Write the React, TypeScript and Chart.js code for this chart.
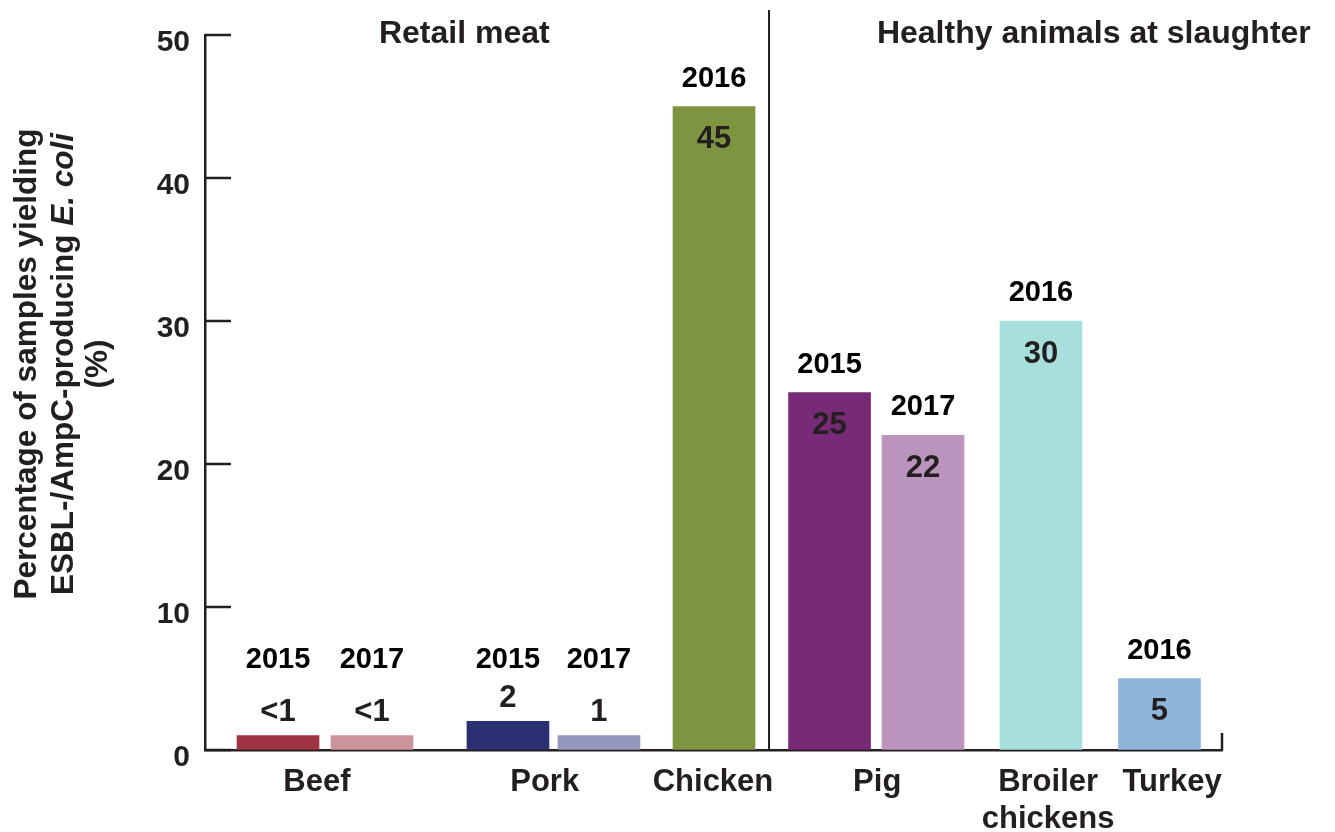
import React, { useEffect, useRef } from "react";
import { Chart, registerables } from "chart.js";

Chart.register(...registerables);

// ---- data ----
const categories = ["Beef", "Pork", "Chicken", "Pig", "Broiler chickens", "Turkey"];
const categoryPositions = [11.0, 33.4, 49.95, 66.1, 82.9, 95.1];
const barPositions = [7.18, 16.42, 29.79, 38.74, 50.05, 61.41, 70.6, 82.2, 93.85];
const barValues = [1, 1, 2, 1, 45, 25, 22, 30, 5];
const valueLabels = ["<1", "<1", "2", "1", "45", "25", "22", "30", "5"];
const yearLabels = ["2015", "2017", "2015", "2017", "2016", "2015", "2017", "2016", "2016"];
const barColors = [
  "#9e3441",
  "#cc959d",
  "#2b3073",
  "#9597bd",
  "#7f9441",
  "#772a75",
  "#bb94bd",
  "#a6dfdc",
  "#8db6da",
];
const sectionTitles = ["Retail meat", "Healthy animals at slaughter"];
const sectionTitlePositions = [25.5, 87.4];
const dividerPosition = 55.46;
const yTicks = [0, 10, 20, 30, 40, 50];
const yTitleLine1 = "Percentage of samples yielding";
const yTitleLine2a = "ESBL-/AmpC-producing ";
const yTitleLine2b = "E. coli";
const yTitleLine3 = "(%)";

const FONT = "'Liberation Sans', Arial, sans-serif";
const INK = "#231f20";

const annotations = {
  id: "annotations",
  afterDraw(chart: any) {
    const ctx = chart.ctx;
    const xs = chart.scales.x;
    const ys = chart.scales.y;
    const area = chart.chartArea;
    ctx.save();

    // inward y ticks
    ctx.strokeStyle = INK;
    ctx.lineWidth = 2.5;
    yTicks.forEach((v) => {
      const y = ys.getPixelForValue(v);
      ctx.beginPath();
      ctx.moveTo(area.left, y);
      ctx.lineTo(area.left + 26, y);
      ctx.stroke();
    });

    // end tick of x axis
    ctx.beginPath();
    ctx.moveTo(area.right, area.bottom + 1);
    ctx.lineTo(area.right, area.bottom - 17);
    ctx.stroke();

    // divider
    const dx = xs.getPixelForValue(dividerPosition);
    ctx.lineWidth = 2;
    ctx.beginPath();
    ctx.moveTo(dx, 10);
    ctx.lineTo(dx, area.bottom);
    ctx.stroke();

    // section titles
    ctx.fillStyle = INK;
    ctx.font = `bold 32px ${FONT}`;
    ctx.textAlign = "center";
    ctx.textBaseline = "middle";
    sectionTitles.forEach((t, i) => {
      ctx.fillText(t, xs.getPixelForValue(sectionTitlePositions[i]), 34);
    });

    // bar labels
    const meta = chart.getDatasetMeta(0);
    meta.data.forEach((el: any, i: number) => {
      const v = barValues[i];
      const top = el.y;
      let yearY: number;
      let valY: number;
      if (v < 3) {
        valY = top - 23;
        yearY = ys.getPixelForValue(1) - 76;
      } else {
        valY = top + 33;
        yearY = top - 28;
      }
      ctx.fillStyle = "#000";
      ctx.font = `bold 29px ${FONT}`;
      ctx.fillText(yearLabels[i], el.x, yearY);
      ctx.fillStyle = INK;
      ctx.font = `bold 31px ${FONT}`;
      ctx.fillText(valueLabels[i], el.x, valY);
    });

    // y title (rotated, mixed style)
    const cy = 364;
    ctx.fillStyle = INK;
    ctx.textBaseline = "alphabetic";
    const drawRot = (bx: number, fn: () => void) => {
      ctx.save();
      ctx.translate(bx, cy);
      ctx.rotate(-Math.PI / 2);
      fn();
      ctx.restore();
    };
    drawRot(36, () => {
      ctx.font = `bold 31.5px ${FONT}`;
      ctx.textAlign = "center";
      ctx.fillText(yTitleLine1, 0, 0);
    });
    drawRot(73, () => {
      ctx.font = `bold 31.5px ${FONT}`;
      const w1 = ctx.measureText(yTitleLine2a).width;
      ctx.font = `italic bold 31.5px ${FONT}`;
      const w2 = ctx.measureText(yTitleLine2b).width;
      const start = -(w1 + w2) / 2;
      ctx.textAlign = "left";
      ctx.font = `bold 31.5px ${FONT}`;
      ctx.fillText(yTitleLine2a, start, 0);
      ctx.font = `italic bold 31.5px ${FONT}`;
      ctx.fillText(yTitleLine2b, start + w1, 0);
    });
    drawRot(107, () => {
      ctx.font = `bold 31.5px ${FONT}`;
      ctx.textAlign = "center";
      ctx.fillText(yTitleLine3, 0, 0);
    });

    ctx.restore();
  },
};

export default function App() {
  const ref = useRef<HTMLCanvasElement | null>(null);

  useEffect(() => {
    if (!ref.current) return;
    const chart = new Chart(ref.current, {
      type: "bar",
      data: {
        datasets: [
          {
            data: barPositions.map((x, i) => ({ x, y: barValues[i] })),
            backgroundColor: barColors,
            borderWidth: 0,
            barThickness: 82,
          } as any,
        ],
      },
      options: {
        animation: false,
        responsive: false,
        devicePixelRatio: 1,
        layout: { padding: { top: 35, right: 113, left: 0, bottom: 0 } },
        plugins: {
          legend: { display: false },
          tooltip: { enabled: false },
        },
        scales: {
          x: {
            type: "linear",
            min: 0,
            max: 100,
            offset: false,
            afterBuildTicks: (scale: any) => {
              scale.ticks = categoryPositions.map((v) => ({ value: v }));
            },
            afterFit: (scale: any) => {
              scale.height = 82;
            },
            grid: { display: true, drawOnChartArea: false, drawTicks: false },
            border: { display: true, color: INK, width: 2.5 },
            ticks: {
              autoSkip: false,
              maxRotation: 0,
              minRotation: 0,
              padding: 14,
              color: INK,
              font: { family: FONT, size: 31, weight: "bold", lineHeight: 1.2 },
              callback: (_v: any, i: number) => categories[i].split(" "),
            },
          },
          y: {
            min: 0,
            max: 50,
            afterBuildTicks: (scale: any) => {
              scale.ticks = yTicks.map((v) => ({ value: v }));
            },
            afterFit: (scale: any) => {
              scale.width = 205;
            },
            grid: { display: true, drawOnChartArea: false, drawTicks: false },
            border: { display: true, color: INK, width: 2.5 },
            ticks: {
              padding: 15,
              labelOffset: 8,
              color: INK,
              font: { family: FONT, size: 30, weight: "bold" },
            },
          },
        },
      } as any,
      plugins: [annotations],
    });
    return () => chart.destroy();
  }, []);

  return (
    <div style={{ position: "fixed", left: 0, top: 0, width: 1335, height: 832, background: "#fff" }}>
      <canvas ref={ref} width={1335} height={832} style={{ display: "block" }} />
    </div>
  );
}
